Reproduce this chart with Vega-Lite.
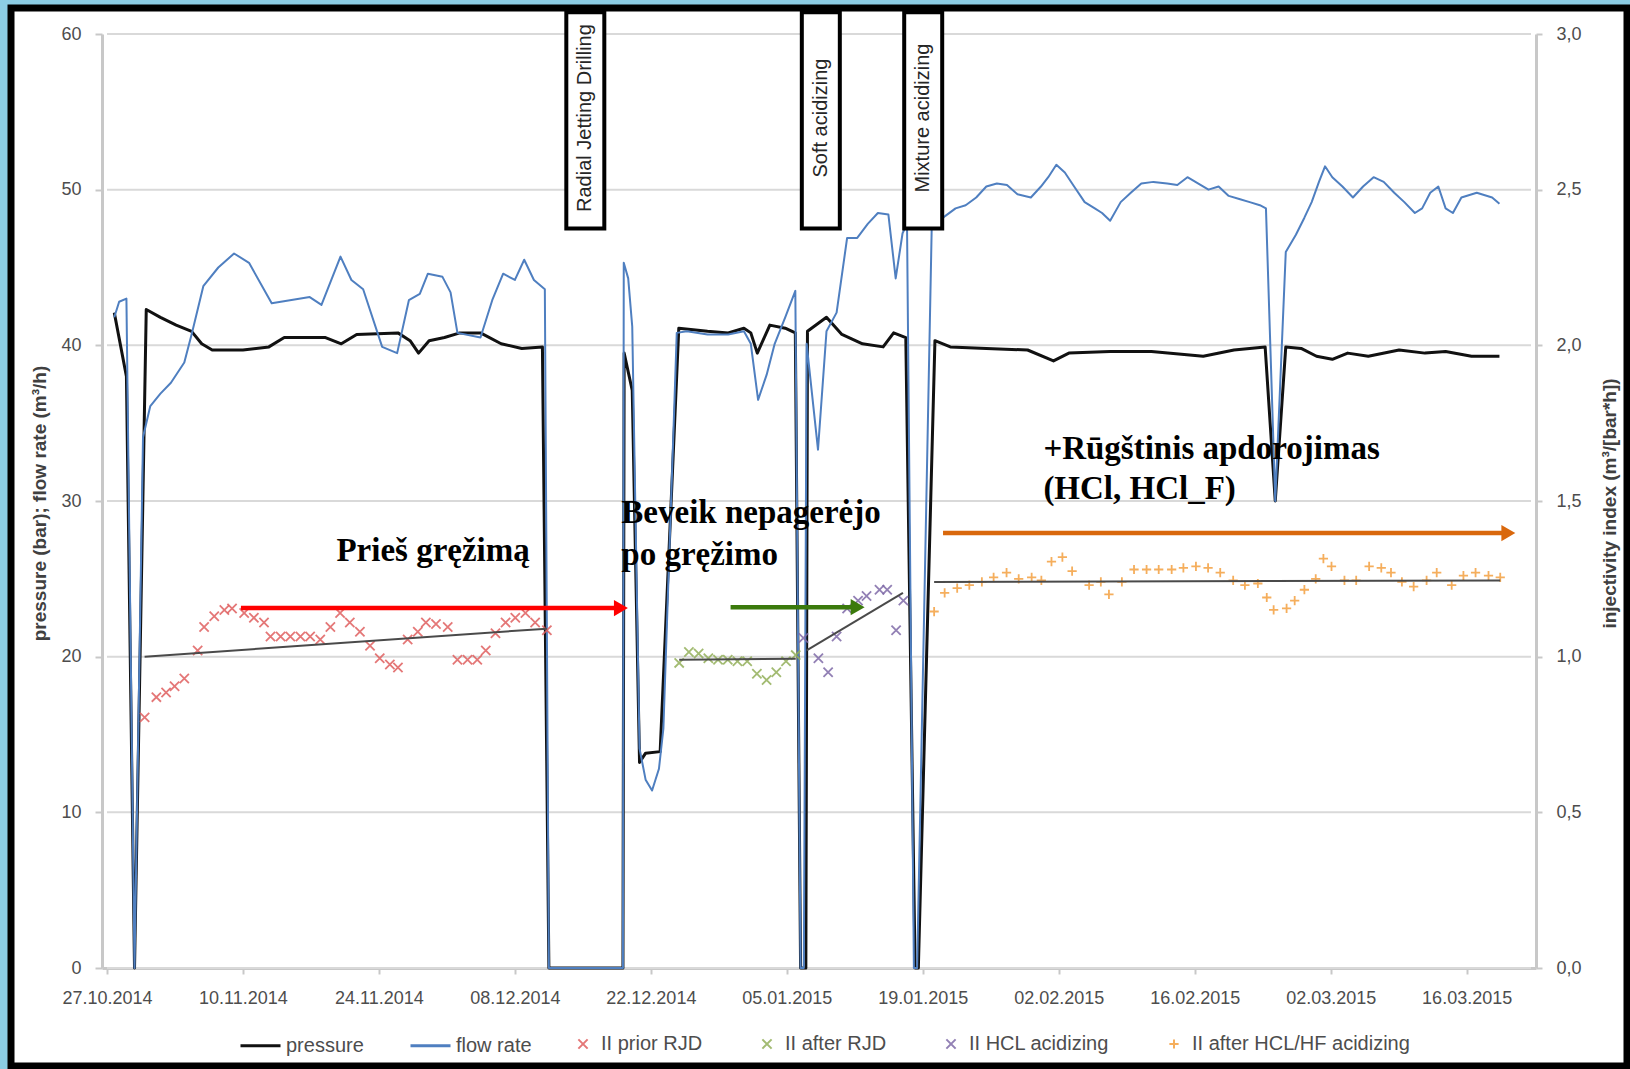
{
  "$schema": "https://vega.github.io/schema/vega-lite/v6.json",
  "width": 1616,
  "height": 1058,
  "autosize": {"type": "none"},
  "padding": {"left": 11, "top": 8, "right": 3, "bottom": 3},
  "background": "#8ccde4",
  "config": {
    "font": "Liberation Sans",
    "view": {"fill": "white", "stroke": "black", "strokeWidth": 7},
    "axis": {"labelFont": "Liberation Sans", "titleFont": "Liberation Sans", "grid": false, "domainColor": "#c8c8c8", "tickColor": "#c8c8c8", "labelColor": "#4d4d4d", "titleColor": "#404040"},
    "legend": {"labelFont": "Liberation Sans", "labelFontSize": 20, "labelColor": "#4d4d4d", "labelLimit": 400}
  },
  "datasets": {
    "grid": [{"value": 0}, {"value": 10}, {"value": 20}, {"value": 30}, {"value": 40}, {"value": 50}, {"value": 60}],
    "flow": [
      {"series": "pressure", "date": "2014-10-27T18:00", "value": 42.1},
      {"series": "pressure", "date": "2014-10-29T00:00", "value": 38.0},
      {"series": "pressure", "date": "2014-10-29T20:00", "value": 0},
      {"series": "pressure", "date": "2014-10-31T01:00", "value": 42.3},
      {"series": "pressure", "date": "2014-11-01T12:00", "value": 41.8},
      {"series": "pressure", "date": "2014-11-03T03:00", "value": 41.3},
      {"series": "pressure", "date": "2014-11-04T17:00", "value": 40.9},
      {"series": "pressure", "date": "2014-11-05T18:00", "value": 40.1},
      {"series": "pressure", "date": "2014-11-06T20:00", "value": 39.7},
      {"series": "pressure", "date": "2014-11-10T00:00", "value": 39.7},
      {"series": "pressure", "date": "2014-11-12T16:00", "value": 39.9},
      {"series": "pressure", "date": "2014-11-14T06:00", "value": 40.5},
      {"series": "pressure", "date": "2014-11-18T12:00", "value": 40.5},
      {"series": "pressure", "date": "2014-11-20T03:00", "value": 40.1},
      {"series": "pressure", "date": "2014-11-21T17:00", "value": 40.7},
      {"series": "pressure", "date": "2014-11-25T23:00", "value": 40.8},
      {"series": "pressure", "date": "2014-11-27T05:00", "value": 40.3},
      {"series": "pressure", "date": "2014-11-28T02:00", "value": 39.5},
      {"series": "pressure", "date": "2014-11-29T04:00", "value": 40.3},
      {"series": "pressure", "date": "2014-11-30T18:00", "value": 40.5},
      {"series": "pressure", "date": "2014-12-02T08:00", "value": 40.8},
      {"series": "pressure", "date": "2014-12-04T11:00", "value": 40.8},
      {"series": "pressure", "date": "2014-12-06T14:00", "value": 40.1},
      {"series": "pressure", "date": "2014-12-08T17:00", "value": 39.8},
      {"series": "pressure", "date": "2014-12-10T20:00", "value": 39.9},
      {"series": "pressure", "date": "2014-12-11T12:00", "value": 0},
      {"series": "pressure", "date": "2014-12-19T03:00", "value": 0},
      {"series": "pressure", "date": "2014-12-19T06:00", "value": 39.5},
      {"series": "pressure", "date": "2014-12-20T02:00", "value": 37.1},
      {"series": "pressure", "date": "2014-12-20T20:00", "value": 13.2},
      {"series": "pressure", "date": "2014-12-21T11:00", "value": 13.8},
      {"series": "pressure", "date": "2014-12-22T23:00", "value": 13.9},
      {"series": "pressure", "date": "2014-12-24T21:00", "value": 41.1},
      {"series": "pressure", "date": "2014-12-27T20:00", "value": 40.9},
      {"series": "pressure", "date": "2014-12-29T23:00", "value": 40.8},
      {"series": "pressure", "date": "2014-12-31T14:00", "value": 41.1},
      {"series": "pressure", "date": "2015-01-01T07:00", "value": 40.8},
      {"series": "pressure", "date": "2015-01-01T23:00", "value": 39.5},
      {"series": "pressure", "date": "2015-01-03T06:00", "value": 41.3},
      {"series": "pressure", "date": "2015-01-04T20:00", "value": 41.1},
      {"series": "pressure", "date": "2015-01-05T21:00", "value": 40.8},
      {"series": "pressure", "date": "2015-01-06T10:00", "value": 0},
      {"series": "pressure", "date": "2015-01-06T23:00", "value": 0},
      {"series": "pressure", "date": "2015-01-07T03:00", "value": 40.9},
      {"series": "pressure", "date": "2015-01-09T02:00", "value": 41.8},
      {"series": "pressure", "date": "2015-01-10T16:00", "value": 40.7},
      {"series": "pressure", "date": "2015-01-12T19:00", "value": 40.1},
      {"series": "pressure", "date": "2015-01-14T22:00", "value": 39.9},
      {"series": "pressure", "date": "2015-01-16T00:00", "value": 40.8},
      {"series": "pressure", "date": "2015-01-17T06:00", "value": 40.5},
      {"series": "pressure", "date": "2015-01-18T05:00", "value": 0},
      {"series": "pressure", "date": "2015-01-18T13:00", "value": 0},
      {"series": "pressure", "date": "2015-01-20T06:00", "value": 40.3},
      {"series": "pressure", "date": "2015-01-21T20:00", "value": 39.9},
      {"series": "pressure", "date": "2015-01-25T13:00", "value": 39.8},
      {"series": "pressure", "date": "2015-01-29T19:00", "value": 39.7},
      {"series": "pressure", "date": "2015-02-01T11:00", "value": 39.0},
      {"series": "pressure", "date": "2015-02-03T01:00", "value": 39.5},
      {"series": "pressure", "date": "2015-02-07T07:00", "value": 39.6},
      {"series": "pressure", "date": "2015-02-11T13:00", "value": 39.6},
      {"series": "pressure", "date": "2015-02-16T21:00", "value": 39.3},
      {"series": "pressure", "date": "2015-02-20T01:00", "value": 39.7},
      {"series": "pressure", "date": "2015-02-23T06:00", "value": 39.9},
      {"series": "pressure", "date": "2015-02-24T07:00", "value": 30.0},
      {"series": "pressure", "date": "2015-02-25T09:00", "value": 39.9},
      {"series": "pressure", "date": "2015-02-26T23:00", "value": 39.8},
      {"series": "pressure", "date": "2015-02-28T13:00", "value": 39.3},
      {"series": "pressure", "date": "2015-03-02T04:00", "value": 39.1},
      {"series": "pressure", "date": "2015-03-03T18:00", "value": 39.5},
      {"series": "pressure", "date": "2015-03-05T21:00", "value": 39.3},
      {"series": "pressure", "date": "2015-03-09T01:00", "value": 39.7},
      {"series": "pressure", "date": "2015-03-11T17:00", "value": 39.5},
      {"series": "pressure", "date": "2015-03-13T20:00", "value": 39.6},
      {"series": "pressure", "date": "2015-03-16T12:00", "value": 39.3},
      {"series": "pressure", "date": "2015-03-19T09:00", "value": 39.3},
      {"series": "flow rate", "date": "2014-10-27T18:00", "value": 41.8},
      {"series": "flow rate", "date": "2014-10-28T06:00", "value": 42.8},
      {"series": "flow rate", "date": "2014-10-29T00:00", "value": 43.0},
      {"series": "flow rate", "date": "2014-10-29T20:00", "value": 0},
      {"series": "flow rate", "date": "2014-10-30T17:00", "value": 34.1},
      {"series": "flow rate", "date": "2014-10-31T11:00", "value": 36.1},
      {"series": "flow rate", "date": "2014-11-01T12:00", "value": 36.9},
      {"series": "flow rate", "date": "2014-11-02T14:00", "value": 37.6},
      {"series": "flow rate", "date": "2014-11-03T23:00", "value": 38.9},
      {"series": "flow rate", "date": "2014-11-04T18:00", "value": 40.8},
      {"series": "flow rate", "date": "2014-11-05T22:00", "value": 43.8},
      {"series": "flow rate", "date": "2014-11-07T11:00", "value": 45.0},
      {"series": "flow rate", "date": "2014-11-09T02:00", "value": 45.9},
      {"series": "flow rate", "date": "2014-11-10T15:00", "value": 45.3},
      {"series": "flow rate", "date": "2014-11-12T23:00", "value": 42.7},
      {"series": "flow rate", "date": "2014-11-16T21:00", "value": 43.1},
      {"series": "flow rate", "date": "2014-11-18T02:00", "value": 42.6},
      {"series": "flow rate", "date": "2014-11-20T01:00", "value": 45.7},
      {"series": "flow rate", "date": "2014-11-21T04:00", "value": 44.2},
      {"series": "flow rate", "date": "2014-11-22T09:00", "value": 43.6},
      {"series": "flow rate", "date": "2014-11-24T08:00", "value": 39.9},
      {"series": "flow rate", "date": "2014-11-25T21:00", "value": 39.5},
      {"series": "flow rate", "date": "2014-11-27T02:00", "value": 42.9},
      {"series": "flow rate", "date": "2014-11-28T05:00", "value": 43.3},
      {"series": "flow rate", "date": "2014-11-29T01:00", "value": 44.6},
      {"series": "flow rate", "date": "2014-11-30T13:00", "value": 44.4},
      {"series": "flow rate", "date": "2014-12-01T09:00", "value": 43.4},
      {"series": "flow rate", "date": "2014-12-02T02:00", "value": 40.8},
      {"series": "flow rate", "date": "2014-12-04T11:00", "value": 40.5},
      {"series": "flow rate", "date": "2014-12-05T16:00", "value": 42.9},
      {"series": "flow rate", "date": "2014-12-06T19:00", "value": 44.6},
      {"series": "flow rate", "date": "2014-12-08T00:00", "value": 44.2},
      {"series": "flow rate", "date": "2014-12-08T23:00", "value": 45.5},
      {"series": "flow rate", "date": "2014-12-09T23:00", "value": 44.2},
      {"series": "flow rate", "date": "2014-12-11T02:00", "value": 43.6},
      {"series": "flow rate", "date": "2014-12-11T12:00", "value": 0},
      {"series": "flow rate", "date": "2014-12-19T03:00", "value": 0},
      {"series": "flow rate", "date": "2014-12-19T05:00", "value": 45.3},
      {"series": "flow rate", "date": "2014-12-19T16:00", "value": 44.3},
      {"series": "flow rate", "date": "2014-12-20T02:00", "value": 41.2},
      {"series": "flow rate", "date": "2014-12-20T20:00", "value": 14.1},
      {"series": "flow rate", "date": "2014-12-21T11:00", "value": 12.1},
      {"series": "flow rate", "date": "2014-12-22T03:00", "value": 11.4},
      {"series": "flow rate", "date": "2014-12-22T20:00", "value": 12.8},
      {"series": "flow rate", "date": "2014-12-23T07:00", "value": 15.4},
      {"series": "flow rate", "date": "2014-12-24T16:00", "value": 40.8},
      {"series": "flow rate", "date": "2014-12-25T17:00", "value": 40.9},
      {"series": "flow rate", "date": "2014-12-27T20:00", "value": 40.7},
      {"series": "flow rate", "date": "2014-12-29T23:00", "value": 40.7},
      {"series": "flow rate", "date": "2014-12-31T14:00", "value": 40.9},
      {"series": "flow rate", "date": "2015-01-01T07:00", "value": 40.1},
      {"series": "flow rate", "date": "2015-01-02T01:00", "value": 36.5},
      {"series": "flow rate", "date": "2015-01-02T22:00", "value": 38.1},
      {"series": "flow rate", "date": "2015-01-03T18:00", "value": 40.1},
      {"series": "flow rate", "date": "2015-01-04T20:00", "value": 41.8},
      {"series": "flow rate", "date": "2015-01-05T21:00", "value": 43.5},
      {"series": "flow rate", "date": "2015-01-06T10:00", "value": 0},
      {"series": "flow rate", "date": "2015-01-06T18:00", "value": 0},
      {"series": "flow rate", "date": "2015-01-07T01:00", "value": 40.1},
      {"series": "flow rate", "date": "2015-01-08T05:00", "value": 33.3},
      {"series": "flow rate", "date": "2015-01-09T02:00", "value": 40.9},
      {"series": "flow rate", "date": "2015-01-10T03:00", "value": 42.1},
      {"series": "flow rate", "date": "2015-01-11T05:00", "value": 46.9},
      {"series": "flow rate", "date": "2015-01-12T06:00", "value": 46.9},
      {"series": "flow rate", "date": "2015-01-13T08:00", "value": 47.8},
      {"series": "flow rate", "date": "2015-01-14T09:00", "value": 48.5},
      {"series": "flow rate", "date": "2015-01-15T11:00", "value": 48.4},
      {"series": "flow rate", "date": "2015-01-16T05:00", "value": 44.3},
      {"series": "flow rate", "date": "2015-01-16T22:00", "value": 47.2},
      {"series": "flow rate", "date": "2015-01-17T09:00", "value": 47.8},
      {"series": "flow rate", "date": "2015-01-18T02:00", "value": 0},
      {"series": "flow rate", "date": "2015-01-18T10:00", "value": 0},
      {"series": "flow rate", "date": "2015-01-19T22:00", "value": 47.5},
      {"series": "flow rate", "date": "2015-01-21T07:00", "value": 48.3},
      {"series": "flow rate", "date": "2015-01-22T09:00", "value": 48.8},
      {"series": "flow rate", "date": "2015-01-23T10:00", "value": 49.0},
      {"series": "flow rate", "date": "2015-01-24T12:00", "value": 49.5},
      {"series": "flow rate", "date": "2015-01-25T13:00", "value": 50.2},
      {"series": "flow rate", "date": "2015-01-26T15:00", "value": 50.4},
      {"series": "flow rate", "date": "2015-01-27T16:00", "value": 50.3},
      {"series": "flow rate", "date": "2015-01-28T18:00", "value": 49.7},
      {"series": "flow rate", "date": "2015-01-30T03:00", "value": 49.5},
      {"series": "flow rate", "date": "2015-01-31T04:00", "value": 50.2},
      {"series": "flow rate", "date": "2015-01-31T22:00", "value": 50.8},
      {"series": "flow rate", "date": "2015-02-01T18:00", "value": 51.6},
      {"series": "flow rate", "date": "2015-02-02T15:00", "value": 51.1},
      {"series": "flow rate", "date": "2015-02-03T14:00", "value": 50.2},
      {"series": "flow rate", "date": "2015-02-04T16:00", "value": 49.2},
      {"series": "flow rate", "date": "2015-02-05T17:00", "value": 48.8},
      {"series": "flow rate", "date": "2015-02-06T11:00", "value": 48.5},
      {"series": "flow rate", "date": "2015-02-07T07:00", "value": 48.0},
      {"series": "flow rate", "date": "2015-02-08T09:00", "value": 49.2},
      {"series": "flow rate", "date": "2015-02-09T10:00", "value": 49.8},
      {"series": "flow rate", "date": "2015-02-10T12:00", "value": 50.4},
      {"series": "flow rate", "date": "2015-02-11T18:00", "value": 50.5},
      {"series": "flow rate", "date": "2015-02-13T04:00", "value": 50.4},
      {"series": "flow rate", "date": "2015-02-14T05:00", "value": 50.3},
      {"series": "flow rate", "date": "2015-02-15T06:00", "value": 50.8},
      {"series": "flow rate", "date": "2015-02-16T08:00", "value": 50.4},
      {"series": "flow rate", "date": "2015-02-17T10:00", "value": 50.0},
      {"series": "flow rate", "date": "2015-02-18T11:00", "value": 50.2},
      {"series": "flow rate", "date": "2015-02-19T12:00", "value": 49.6},
      {"series": "flow rate", "date": "2015-02-20T14:00", "value": 49.4},
      {"series": "flow rate", "date": "2015-02-21T16:00", "value": 49.2},
      {"series": "flow rate", "date": "2015-02-22T17:00", "value": 49.0},
      {"series": "flow rate", "date": "2015-02-23T08:00", "value": 48.8},
      {"series": "flow rate", "date": "2015-02-24T07:00", "value": 30.0},
      {"series": "flow rate", "date": "2015-02-25T09:00", "value": 46.0},
      {"series": "flow rate", "date": "2015-02-26T10:00", "value": 47.1},
      {"series": "flow rate", "date": "2015-02-27T07:00", "value": 48.2},
      {"series": "flow rate", "date": "2015-02-28T01:00", "value": 49.2},
      {"series": "flow rate", "date": "2015-02-28T19:00", "value": 50.5},
      {"series": "flow rate", "date": "2015-03-01T10:00", "value": 51.5},
      {"series": "flow rate", "date": "2015-03-02T04:00", "value": 50.8},
      {"series": "flow rate", "date": "2015-03-03T05:00", "value": 50.2},
      {"series": "flow rate", "date": "2015-03-04T07:00", "value": 49.5},
      {"series": "flow rate", "date": "2015-03-05T08:00", "value": 50.2},
      {"series": "flow rate", "date": "2015-03-06T10:00", "value": 50.8},
      {"series": "flow rate", "date": "2015-03-07T11:00", "value": 50.5},
      {"series": "flow rate", "date": "2015-03-08T13:00", "value": 49.8},
      {"series": "flow rate", "date": "2015-03-09T14:00", "value": 49.2},
      {"series": "flow rate", "date": "2015-03-10T16:00", "value": 48.5},
      {"series": "flow rate", "date": "2015-03-11T10:00", "value": 48.8},
      {"series": "flow rate", "date": "2015-03-12T06:00", "value": 49.8},
      {"series": "flow rate", "date": "2015-03-13T02:00", "value": 50.2},
      {"series": "flow rate", "date": "2015-03-13T20:00", "value": 48.8},
      {"series": "flow rate", "date": "2015-03-14T14:00", "value": 48.5},
      {"series": "flow rate", "date": "2015-03-15T11:00", "value": 49.5},
      {"series": "flow rate", "date": "2015-03-17T01:00", "value": 49.8},
      {"series": "flow rate", "date": "2015-03-18T15:00", "value": 49.5},
      {"series": "flow rate", "date": "2015-03-19T09:00", "value": 49.1}
    ],
    "ii": [
      {"series": "II prior RJD", "date": "2014-10-30T21:00", "ii": 0.805},
      {"series": "II prior RJD", "date": "2014-11-01T02:00", "ii": 0.87},
      {"series": "II prior RJD", "date": "2014-11-02T02:00", "ii": 0.885},
      {"series": "II prior RJD", "date": "2014-11-02T23:00", "ii": 0.905},
      {"series": "II prior RJD", "date": "2014-11-03T23:00", "ii": 0.93},
      {"series": "II prior RJD", "date": "2014-11-05T08:00", "ii": 1.02},
      {"series": "II prior RJD", "date": "2014-11-06T00:00", "ii": 1.095},
      {"series": "II prior RJD", "date": "2014-11-07T01:00", "ii": 1.13},
      {"series": "II prior RJD", "date": "2014-11-08T02:00", "ii": 1.15},
      {"series": "II prior RJD", "date": "2014-11-08T21:00", "ii": 1.155},
      {"series": "II prior RJD", "date": "2014-11-10T03:00", "ii": 1.14},
      {"series": "II prior RJD", "date": "2014-11-11T03:00", "ii": 1.125},
      {"series": "II prior RJD", "date": "2014-11-12T04:00", "ii": 1.11},
      {"series": "II prior RJD", "date": "2014-11-12T20:00", "ii": 1.065},
      {"series": "II prior RJD", "date": "2014-11-13T21:00", "ii": 1.065},
      {"series": "II prior RJD", "date": "2014-11-14T21:00", "ii": 1.065},
      {"series": "II prior RJD", "date": "2014-11-15T22:00", "ii": 1.065},
      {"series": "II prior RJD", "date": "2014-11-16T22:00", "ii": 1.065},
      {"series": "II prior RJD", "date": "2014-11-17T23:00", "ii": 1.055},
      {"series": "II prior RJD", "date": "2014-11-19T00:00", "ii": 1.095},
      {"series": "II prior RJD", "date": "2014-11-20T00:00", "ii": 1.14},
      {"series": "II prior RJD", "date": "2014-11-21T00:00", "ii": 1.11},
      {"series": "II prior RJD", "date": "2014-11-22T01:00", "ii": 1.08},
      {"series": "II prior RJD", "date": "2014-11-23T02:00", "ii": 1.035},
      {"series": "II prior RJD", "date": "2014-11-24T02:00", "ii": 0.995},
      {"series": "II prior RJD", "date": "2014-11-25T03:00", "ii": 0.975},
      {"series": "II prior RJD", "date": "2014-11-25T23:00", "ii": 0.965},
      {"series": "II prior RJD", "date": "2014-11-26T23:00", "ii": 1.055},
      {"series": "II prior RJD", "date": "2014-11-28T00:00", "ii": 1.08},
      {"series": "II prior RJD", "date": "2014-11-28T20:00", "ii": 1.11},
      {"series": "II prior RJD", "date": "2014-11-29T21:00", "ii": 1.105},
      {"series": "II prior RJD", "date": "2014-12-01T02:00", "ii": 1.095},
      {"series": "II prior RJD", "date": "2014-12-02T02:00", "ii": 0.99},
      {"series": "II prior RJD", "date": "2014-12-03T03:00", "ii": 0.99},
      {"series": "II prior RJD", "date": "2014-12-04T03:00", "ii": 0.99},
      {"series": "II prior RJD", "date": "2014-12-05T00:00", "ii": 1.02},
      {"series": "II prior RJD", "date": "2014-12-06T00:00", "ii": 1.075},
      {"series": "II prior RJD", "date": "2014-12-07T01:00", "ii": 1.11},
      {"series": "II prior RJD", "date": "2014-12-08T01:00", "ii": 1.125},
      {"series": "II prior RJD", "date": "2014-12-09T02:00", "ii": 1.14},
      {"series": "II prior RJD", "date": "2014-12-10T02:00", "ii": 1.11},
      {"series": "II prior RJD", "date": "2014-12-11T07:00", "ii": 1.085},
      {"series": "II after RJD", "date": "2014-12-24T22:00", "ii": 0.98},
      {"series": "II after RJD", "date": "2014-12-25T22:00", "ii": 1.015},
      {"series": "II after RJD", "date": "2014-12-26T22:00", "ii": 1.01},
      {"series": "II after RJD", "date": "2014-12-27T22:00", "ii": 0.995},
      {"series": "II after RJD", "date": "2014-12-28T22:00", "ii": 0.99},
      {"series": "II after RJD", "date": "2014-12-29T22:00", "ii": 0.99},
      {"series": "II after RJD", "date": "2014-12-30T22:00", "ii": 0.985},
      {"series": "II after RJD", "date": "2014-12-31T22:00", "ii": 0.985},
      {"series": "II after RJD", "date": "2015-01-01T22:00", "ii": 0.945},
      {"series": "II after RJD", "date": "2015-01-02T22:00", "ii": 0.925},
      {"series": "II after RJD", "date": "2015-01-03T22:00", "ii": 0.95},
      {"series": "II after RJD", "date": "2015-01-04T22:00", "ii": 0.985},
      {"series": "II after RJD", "date": "2015-01-05T22:00", "ii": 1.005},
      {"series": "II HCL acidizing", "date": "2015-01-06T17:00", "ii": 1.06},
      {"series": "II HCL acidizing", "date": "2015-01-08T06:00", "ii": 0.995},
      {"series": "II HCL acidizing", "date": "2015-01-09T06:00", "ii": 0.95},
      {"series": "II HCL acidizing", "date": "2015-01-10T03:00", "ii": 1.065},
      {"series": "II HCL acidizing", "date": "2015-01-11T05:00", "ii": 1.155},
      {"series": "II HCL acidizing", "date": "2015-01-12T08:00", "ii": 1.18},
      {"series": "II HCL acidizing", "date": "2015-01-13T05:00", "ii": 1.195},
      {"series": "II HCL acidizing", "date": "2015-01-14T13:00", "ii": 1.215},
      {"series": "II HCL acidizing", "date": "2015-01-15T08:00", "ii": 1.215},
      {"series": "II HCL acidizing", "date": "2015-01-16T06:00", "ii": 1.085},
      {"series": "II HCL acidizing", "date": "2015-01-17T00:00", "ii": 1.18},
      {"series": "II after HCL/HF acidizing", "date": "2015-01-20T04:00", "ii": 1.145},
      {"series": "II after HCL/HF acidizing", "date": "2015-01-21T06:00", "ii": 1.205},
      {"series": "II after HCL/HF acidizing", "date": "2015-01-22T13:00", "ii": 1.22},
      {"series": "II after HCL/HF acidizing", "date": "2015-01-23T19:00", "ii": 1.23},
      {"series": "II after HCL/HF acidizing", "date": "2015-01-25T02:00", "ii": 1.24},
      {"series": "II after HCL/HF acidizing", "date": "2015-01-26T07:00", "ii": 1.255},
      {"series": "II after HCL/HF acidizing", "date": "2015-01-27T15:00", "ii": 1.27},
      {"series": "II after HCL/HF acidizing", "date": "2015-01-28T21:00", "ii": 1.25},
      {"series": "II after HCL/HF acidizing", "date": "2015-01-30T05:00", "ii": 1.255},
      {"series": "II after HCL/HF acidizing", "date": "2015-01-31T05:00", "ii": 1.245},
      {"series": "II after HCL/HF acidizing", "date": "2015-02-01T06:00", "ii": 1.305},
      {"series": "II after HCL/HF acidizing", "date": "2015-02-02T09:00", "ii": 1.32},
      {"series": "II after HCL/HF acidizing", "date": "2015-02-03T09:00", "ii": 1.275},
      {"series": "II after HCL/HF acidizing", "date": "2015-02-05T03:00", "ii": 1.23},
      {"series": "II after HCL/HF acidizing", "date": "2015-02-06T08:00", "ii": 1.24},
      {"series": "II after HCL/HF acidizing", "date": "2015-02-07T04:00", "ii": 1.2},
      {"series": "II after HCL/HF acidizing", "date": "2015-02-08T12:00", "ii": 1.24},
      {"series": "II after HCL/HF acidizing", "date": "2015-02-09T18:00", "ii": 1.28},
      {"series": "II after HCL/HF acidizing", "date": "2015-02-11T01:00", "ii": 1.28},
      {"series": "II after HCL/HF acidizing", "date": "2015-02-12T07:00", "ii": 1.28},
      {"series": "II after HCL/HF acidizing", "date": "2015-02-13T15:00", "ii": 1.28},
      {"series": "II after HCL/HF acidizing", "date": "2015-02-14T20:00", "ii": 1.285},
      {"series": "II after HCL/HF acidizing", "date": "2015-02-16T03:00", "ii": 1.29},
      {"series": "II after HCL/HF acidizing", "date": "2015-02-17T09:00", "ii": 1.285},
      {"series": "II after HCL/HF acidizing", "date": "2015-02-18T15:00", "ii": 1.27},
      {"series": "II after HCL/HF acidizing", "date": "2015-02-19T23:00", "ii": 1.245},
      {"series": "II after HCL/HF acidizing", "date": "2015-02-21T04:00", "ii": 1.23},
      {"series": "II after HCL/HF acidizing", "date": "2015-02-22T12:00", "ii": 1.235},
      {"series": "II after HCL/HF acidizing", "date": "2015-02-23T10:00", "ii": 1.19},
      {"series": "II after HCL/HF acidizing", "date": "2015-02-24T03:00", "ii": 1.15},
      {"series": "II after HCL/HF acidizing", "date": "2015-02-25T11:00", "ii": 1.155},
      {"series": "II after HCL/HF acidizing", "date": "2015-02-26T07:00", "ii": 1.18},
      {"series": "II after HCL/HF acidizing", "date": "2015-02-27T07:00", "ii": 1.215},
      {"series": "II after HCL/HF acidizing", "date": "2015-02-28T11:00", "ii": 1.25},
      {"series": "II after HCL/HF acidizing", "date": "2015-03-01T06:00", "ii": 1.315},
      {"series": "II after HCL/HF acidizing", "date": "2015-03-02T02:00", "ii": 1.29},
      {"series": "II after HCL/HF acidizing", "date": "2015-03-03T10:00", "ii": 1.245},
      {"series": "II after HCL/HF acidizing", "date": "2015-03-04T15:00", "ii": 1.245},
      {"series": "II after HCL/HF acidizing", "date": "2015-03-05T23:00", "ii": 1.29},
      {"series": "II after HCL/HF acidizing", "date": "2015-03-07T05:00", "ii": 1.285},
      {"series": "II after HCL/HF acidizing", "date": "2015-03-08T05:00", "ii": 1.27},
      {"series": "II after HCL/HF acidizing", "date": "2015-03-09T08:00", "ii": 1.24},
      {"series": "II after HCL/HF acidizing", "date": "2015-03-10T13:00", "ii": 1.225},
      {"series": "II after HCL/HF acidizing", "date": "2015-03-11T21:00", "ii": 1.245},
      {"series": "II after HCL/HF acidizing", "date": "2015-03-12T22:00", "ii": 1.27},
      {"series": "II after HCL/HF acidizing", "date": "2015-03-14T11:00", "ii": 1.23},
      {"series": "II after HCL/HF acidizing", "date": "2015-03-15T16:00", "ii": 1.26},
      {"series": "II after HCL/HF acidizing", "date": "2015-03-16T22:00", "ii": 1.27},
      {"series": "II after HCL/HF acidizing", "date": "2015-03-18T06:00", "ii": 1.26},
      {"series": "II after HCL/HF acidizing", "date": "2015-03-19T11:00", "ii": 1.255}
    ],
    "trend": [
      {"series": "II prior RJD", "date": "2014-10-30T21:00", "ii": 1.0},
      {"series": "II prior RJD", "date": "2014-12-11T07:00", "ii": 1.09},
      {"series": "II after RJD", "date": "2014-12-24T22:00", "ii": 0.99},
      {"series": "II after RJD", "date": "2015-01-05T22:00", "ii": 0.993},
      {"series": "II HCL acidizing", "date": "2015-01-07T01:00", "ii": 1.02},
      {"series": "II HCL acidizing", "date": "2015-01-16T23:00", "ii": 1.205},
      {"series": "II after HCL/HF acidizing", "date": "2015-01-20T04:00", "ii": 1.24},
      {"series": "II after HCL/HF acidizing", "date": "2015-03-19T11:00", "ii": 1.245}
    ],
    "events": [
      {"date": "2014-12-15T06:00", "event": "Radial Jetting Drilling"},
      {"date": "2015-01-08T12:00", "event": "Soft acidizing"},
      {"date": "2015-01-19T01:00", "event": "Mixture acidizing"}
    ],
    "notes": [
      {"date": "2014-11-19T15:00", "ii": 1.34, "note": "Prieš gręžimą"},
      {"date": "2014-12-18T23:00", "ii": 1.461, "note": "Beveik nepagerėjo"},
      {"date": "2014-12-18T23:00", "ii": 1.327, "note": "po gręžimo"},
      {"date": "2015-01-31T10:00", "ii": 1.667, "note": "+Rūgštinis apdorojimas"},
      {"date": "2015-01-31T10:00", "ii": 1.538, "note": "(HCl, HCl_F)"}
    ],
    "arrows": [
      {"phase": "before drilling", "start": "2014-11-09T19:00", "end": "2014-12-18T22:00", "ii": 1.156},
      {"phase": "after drilling", "start": "2014-12-30T05:00", "end": "2015-01-12T07:00", "ii": 1.159},
      {"phase": "after acidizing", "start": "2015-01-21T02:00", "end": "2015-03-20T07:00", "ii": 1.397}
    ]
  },
  "layer": [
    {
      "layer": [
        {
          "data": {"name": "grid"},
          "mark": {"type": "rule", "color": "#d9d9d9", "strokeWidth": 2},
          "encoding": {
            "x": {"datum": {"year": 2014, "month": 10, "date": 27}, "type": "temporal"},
            "x2": {"datum": {"year": 2015, "month": 3, "date": 22, "hours": 15}},
            "y": {"field": "value", "type": "quantitative"}
          }
        },
        {
          "data": {"name": "flow"},
          "mark": {"type": "line", "strokeJoin": "round"},
          "encoding": {
            "x": {
              "field": "date", "type": "temporal", "title": null,
              "scale": {"domain": [{"year": 2014, "month": 10, "date": 27}, {"year": 2015, "month": 3, "date": 22, "hours": 15}], "range": [91, 1525]},
              "axis": {
                "values": [
                  {"year": 2014, "month": 10, "date": 27}, {"year": 2014, "month": 11, "date": 10},
                  {"year": 2014, "month": 11, "date": 24}, {"year": 2014, "month": 12, "date": 8},
                  {"year": 2014, "month": 12, "date": 22}, {"year": 2015, "month": 1, "date": 5},
                  {"year": 2015, "month": 1, "date": 19}, {"year": 2015, "month": 2, "date": 2},
                  {"year": 2015, "month": 2, "date": 16}, {"year": 2015, "month": 3, "date": 2},
                  {"year": 2015, "month": 3, "date": 16}
                ],
                "format": "%d.%m.%Y", "offset": -98, "labelFontSize": 18, "labelPadding": 15,
                "tickSize": 6, "tickWidth": 2, "domainWidth": 3, "labelOverlap": false, "labelFlush": false, "title": null
              }
            },
            "y": {
              "field": "value", "type": "quantitative",
              "scale": {"domain": [0, 60], "range": [960, 26], "nice": false, "zero": false},
              "axis": {
                "orient": "left", "values": [0, 10, 20, 30, 40, 50, 60], "offset": -91,
                "tickSize": 7, "tickWidth": 2, "labelPadding": 14, "labelFontSize": 18, "domainWidth": 3,
                "title": "pressure (bar); flow rate (m³/h)", "titleFontSize": 19, "titleFontWeight": "bold",
                "titleAngle": 270, "titleAlign": "center", "titleBaseline": "middle", "titleX": -63, "titleY": 495
              }
            },
            "color": {
              "field": "series", "type": "nominal",
              "scale": {"domain": ["pressure", "flow rate"], "range": ["#111111", "#4f7fc0"]},
              "legend": {
                "orient": "none", "legendX": 228, "legendY": 1016, "direction": "horizontal", "title": null,
                "symbolType": "stroke", "symbolSize": 1600, "symbolStrokeWidth": 3,
                "labelFontSize": 20, "columnPadding": 40, "labelOffset": 4
              }
            },
            "strokeWidth": {
              "field": "series", "type": "nominal",
              "scale": {"domain": ["pressure", "flow rate"], "range": [3, 2]},
              "legend": null
            }
          }
        }
      ]
    },
    {
      "layer": [
        {
          "data": {"name": "ii"},
          "mark": {"type": "point", "filled": false, "size": 85, "strokeWidth": 1.8, "opacity": 0.85},
          "encoding": {
            "x": {"field": "date", "type": "temporal", "title": null},
            "y": {
              "field": "ii", "type": "quantitative",
              "scale": {"domain": [0, 3], "range": [960, 26], "nice": false, "zero": false},
              "axis": {
                "orient": "right", "values": [0, 0.5, 1, 1.5, 2, 2.5, 3], "offset": -91,
                "labelExpr": "replace(format(datum.value, '.1f'), '.', ',')",
                "tickSize": 6, "tickWidth": 2, "labelPadding": 14, "labelFontSize": 18, "domainWidth": 3,
                "title": "injectivity index (m³/[bar*h])", "titleFontSize": 19, "titleFontWeight": "bold",
                "titleAngle": 270, "titleAlign": "center", "titleBaseline": "middle", "titleX": 73, "titleY": 495
              }
            },
            "color": {
              "field": "series", "type": "nominal",
              "scale": {
                "domain": ["II prior RJD", "II after RJD", "II HCL acidizing", "II after HCL/HF acidizing"],
                "range": ["#e06060", "#93b05a", "#7f6aa8", "#f4a040"]
              },
              "legend": {
                "orient": "none", "legendX": 562, "legendY": 1026, "direction": "horizontal", "title": null,
                "symbolSize": 85, "symbolStrokeWidth": 2, "labelFontSize": 20, "columnPadding": 54, "labelOffset": 8
              }
            },
            "shape": {
              "field": "series", "type": "nominal",
              "scale": {
                "domain": ["II prior RJD", "II after RJD", "II HCL acidizing", "II after HCL/HF acidizing"],
                "range": ["M-1,-1L1,1M-1,1L1,-1", "M-1,-1L1,1M-1,1L1,-1", "M-1,-1L1,1M-1,1L1,-1", "M-1,0L1,0M0,-1L0,1"]
              },
              "legend": {
                "orient": "none", "legendX": 562, "legendY": 1026, "direction": "horizontal", "title": null,
                "symbolSize": 85, "symbolStrokeWidth": 2, "labelFontSize": 20, "columnPadding": 54, "labelOffset": 8
              }
            }
          }
        },
        {
          "data": {"name": "trend"},
          "mark": {"type": "line", "color": "#4a4a4a", "strokeWidth": 2},
          "encoding": {
            "x": {"field": "date", "type": "temporal", "title": null},
            "y": {"field": "ii", "type": "quantitative"},
            "detail": {"field": "series"}
          }
        },
        {
          "data": {"name": "arrows"},
          "mark": {"type": "rule", "strokeWidth": 4.5},
          "encoding": {
            "x": {"field": "start", "type": "temporal", "title": null},
            "x2": {"field": "end"},
            "y": {"field": "ii", "type": "quantitative"},
            "stroke": {
              "field": "phase", "type": "nominal",
              "scale": {"domain": ["before drilling", "after drilling", "after acidizing"], "range": ["#ff0000", "#3b7a0c", "#d9680d"]},
              "legend": null
            }
          }
        },
        {
          "data": {"name": "arrows"},
          "mark": {"type": "point", "shape": "triangle-right", "filled": true, "size": 260, "opacity": 1, "strokeWidth": 0},
          "encoding": {
            "x": {"field": "end", "type": "temporal", "title": null},
            "y": {"field": "ii", "type": "quantitative"},
            "fill": {
              "field": "phase", "type": "nominal",
              "scale": {"domain": ["before drilling", "after drilling", "after acidizing"], "range": ["#ff0000", "#3b7a0c", "#d9680d"]},
              "legend": null
            }
          }
        },
        {
          "data": {"name": "notes"},
          "mark": {"type": "text", "font": "Liberation Serif", "fontWeight": "bold", "fontSize": 33, "align": "left", "baseline": "middle", "color": "#000000"},
          "encoding": {
            "x": {"field": "date", "type": "temporal", "title": null},
            "y": {"field": "ii", "type": "quantitative"},
            "text": {"field": "note"}
          }
        },
        {
          "data": {"name": "events"},
          "mark": {"type": "bar", "size": 38, "fill": "white", "stroke": "black", "strokeWidth": 4},
          "encoding": {
            "x": {"field": "date", "type": "temporal", "title": null},
            "y": {"datum": 3.07, "type": "quantitative"},
            "y2": {"datum": 2.375}
          }
        },
        {
          "data": {"name": "events"},
          "mark": {"type": "text", "angle": 270, "fontSize": 20, "color": "#262626", "align": "center", "baseline": "middle"},
          "encoding": {
            "x": {"field": "date", "type": "temporal", "title": null},
            "y": {"datum": 2.73, "type": "quantitative"},
            "text": {"field": "event"}
          }
        }
      ]
    }
  ],
  "resolve": {"scale": {"y": "independent", "color": "independent", "shape": "independent"}}
}
